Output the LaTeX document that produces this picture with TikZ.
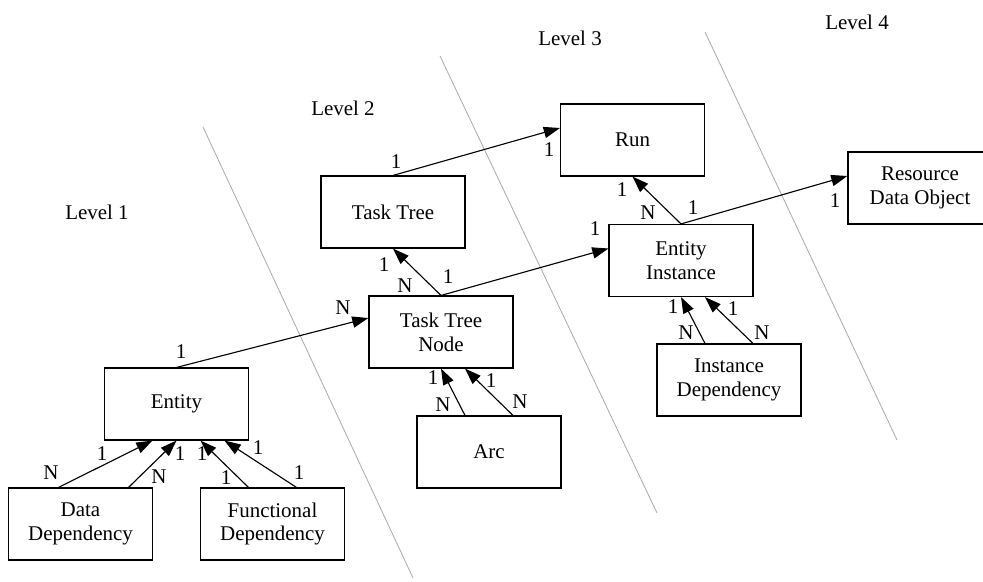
\documentclass[tikz,border=0pt]{standalone}
\usepackage{fontspec}
\setmainfont{Liberation Serif}
\usetikzlibrary{arrows.meta,calc}

\tikzset{
  box/.style={draw,line width=0.8pt,minimum width=3.6cm,minimum height=1.8cm,inner sep=0pt,align=center,font=\fontsize{14.9}{17}\selectfont},
  card/.style={inner sep=0pt,font=\fontsize{14.9}{17}\selectfont},
  rel/.style={line width=0.8pt,-{Triangle[length=11.5pt,width=8pt]}},
  divider/.style={gray!65,line width=0.6pt}
}

\begin{document}
\begin{tikzpicture}[x=0.025cm,y=-0.025cm]
\useasboundingbox (0,0) rectangle (983,581);
% level borders
\draw[divider] (203,127) -- (413,578);
\draw[divider] (440,56) -- (657,513);
\draw[divider] (705,32) -- (897,440);

\node[card] (lv1) at (97,212) {Level 1};
\node[card] (lv2) at (343,108) {Level 2};
\node[card] (lv3) at (570,38) {Level 3};
\node[card] (lv4) at (857,22) {Level 4};

\node[box] (ent) at (176.5,404) {Entity};
\node[box] (dd) at (80.5,524) {Data\\Dependency};
\node[box] (fd) at (272.5,524) {Functional\\Dependency};
\node[box] (tt) at (393,212) {Task Tree};
\node[box] (ttn) at (441,332) {Task Tree\\Node};
\node[box] (arc) at (489,452) {Arc};
\node[box] (run) at (632.5,140) {Run};
\node[box] (ei) at (681,260.5) {Entity\\Instance};
\node[box] (id) at (729,380) {Instance\\Dependency};
\node[box] (res) at (920,188) {Resource\\Data Object};

\draw[rel] (ent.north) -- ($(ttn.west)+(0,-14)$);
\draw[rel] (tt.north) -- ($(run.west)+(0,-12)$);
\draw[rel] (ttn.north) -- (tt.south);
\draw[rel] (ttn.north) -- ($(ei.west)+(0,-12)$);
\draw[rel] (ei.north) -- (run.south);
\draw[rel] (ei.north) -- ($(res.west)+(0,-12)$);
\draw[rel] ($(arc.north)+(-24,0)$) -- (ttn.south);
\draw[rel] ($(arc.north)+(24,0)$) -- ($(ttn.south)+(24,0)$);
\draw[rel] ($(id.north)+(-24,0)$) -- (ei.south);
\draw[rel] ($(id.north)+(24,0)$) -- ($(ei.south)+(24,0)$);
\draw[rel] ($(dd.north)+(-22,0)$) -- ($(ent.south)+(-24,0)$);
\draw[rel] ($(dd.north)+(48,0)$) -- (ent.south);
\draw[rel] ($(fd.north)+(-24,0)$) -- ($(ent.south)+(24,0)$);
\draw[rel] ($(fd.north)+(24,0)$) -- ($(ent.south)+(48,0)$);

% cardinalities
\node[card] (c1) at (181,352) {1};
\node[card] (c2) at (343,308) {N};
\node[card] (c3) at (396,162) {1};
\node[card] (c4) at (549,150) {1};
\node[card] (c5) at (384,265) {1};
\node[card] (c6) at (405,286) {N};
\node[card] (c7) at (448,277) {1};
\node[card] (c8) at (595,229) {1};
\node[card] (c9) at (622,190) {1};
\node[card] (c10) at (648,213) {N};
\node[card] (c11) at (693,208) {1};
\node[card] (c12) at (835,201) {1};
\node[card] (c13) at (433,378) {1};
\node[card] (c14) at (443,405) {N};
\node[card] (c15) at (491,381) {1};
\node[card] (c16) at (520,402) {N};
\node[card] (c17) at (673,307) {1};
\node[card] (c18) at (686,333) {N};
\node[card] (c19) at (733,309) {1};
\node[card] (c20) at (762,333) {N};
\node[card] (c21) at (102,454) {1};
\node[card] (c22) at (51,473) {N};
\node[card] (c23) at (180,454) {1};
\node[card] (c24) at (159,477) {N};
\node[card] (c25) at (202,454) {1};
\node[card] (c26) at (226,478) {1};
\node[card] (c27) at (258,448) {1};
\node[card] (c28) at (299,473) {1};
\end{tikzpicture}
\end{document}
